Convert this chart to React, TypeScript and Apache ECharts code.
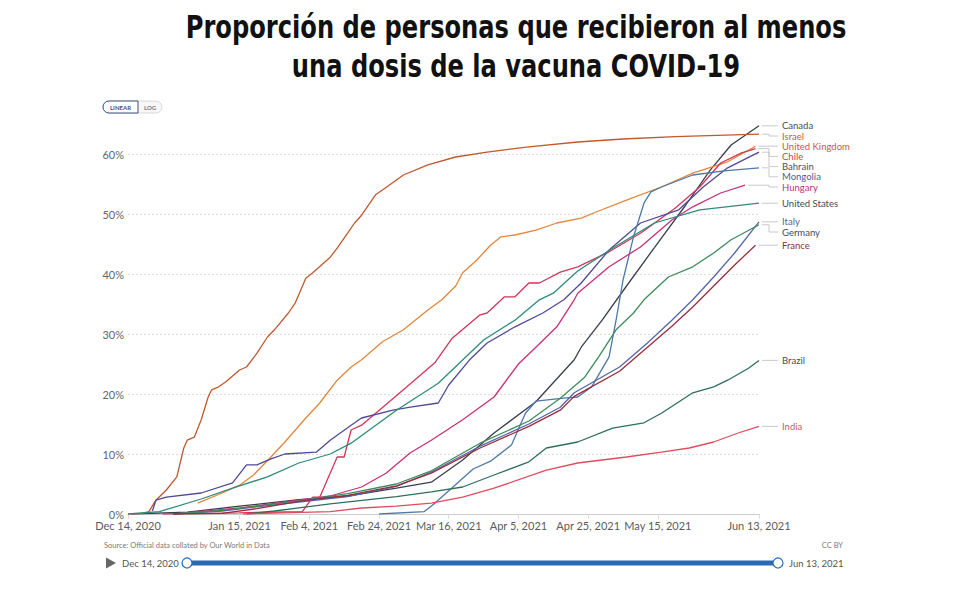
import React, { useEffect, useRef } from "react";
import * as echarts from "echarts";

type Pt = [string, number];

const START_DATE = "2020-12-14";
const END_DATE = "2021-06-13";
const tickDates = ["2020-12-14", "2021-01-15", "2021-02-04", "2021-02-24", "2021-03-16", "2021-04-05", "2021-04-25", "2021-05-15", "2021-06-13"];
const tickLabels = ["Dec 14, 2020", "Jan 15, 2021", "Feb 4, 2021", "Feb 24, 2021", "Mar 16, 2021", "Apr 5, 2021", "Apr 25, 2021", "May 15, 2021", "Jun 13, 2021"];

const canada: Pt[] = [["2020-12-15",0],["2020-12-31",0.3],["2021-01-15",1.3],["2021-02-01",2.4],["2021-02-15",3.0],["2021-03-01",4.3],["2021-03-11",5.3],["2021-03-20",9],["2021-03-29",13.5],["2021-04-10",18.7],["2021-04-21",25.7],["2021-04-23",27.8],["2021-04-29",32.3],["2021-05-06",38],["2021-05-15",45.2],["2021-05-23",51.5],["2021-05-30",57.3],["2021-06-05",61.5],["2021-06-13",64.7]];
const israel: Pt[] = [["2020-12-14",0],["2020-12-18",0.1],["2020-12-20",0.4],["2020-12-22",2.3],["2020-12-25",4],["2020-12-28",6.2],["2020-12-30",11],["2020-12-31",12.3],["2021-01-02",12.8],["2021-01-04",15.7],["2021-01-06",19.5],["2021-01-07",20.7],["2021-01-09",21.2],["2021-01-11",22],["2021-01-15",24],["2021-01-17",24.5],["2021-01-20",26.8],["2021-01-23",29.5],["2021-01-25",30.7],["2021-01-29",33.5],["2021-01-31",35.2],["2021-02-03",39.3],["2021-02-05",40.2],["2021-02-10",42.8],["2021-02-12",44.3],["2021-02-15",46.8],["2021-02-17",48.5],["2021-02-19",49.8],["2021-02-23",53.2],["2021-02-25",54],["2021-03-03",56.5],["2021-03-10",58.2],["2021-03-18",59.5],["2021-03-27",60.3],["2021-04-01",60.7],["2021-04-08",61.2],["2021-04-22",62],["2021-05-05",62.5],["2021-05-20",62.9],["2021-06-01",63.1],["2021-06-13",63.3]];
const unitedKingdom: Pt[] = [["2021-01-03",1.8],["2021-01-10",3.5],["2021-01-15",4.8],["2021-01-19",6.5],["2021-01-24",9.5],["2021-01-28",12],["2021-02-03",16],["2021-02-07",18.5],["2021-02-12",22.3],["2021-02-16",24.5],["2021-02-19",25.7],["2021-02-25",28.7],["2021-03-03",30.7],["2021-03-10",34],["2021-03-14",35.7],["2021-03-18",38],["2021-03-20",40.2],["2021-03-24",42.3],["2021-03-28",44.8],["2021-03-31",46.2],["2021-04-04",46.5],["2021-04-10",47.3],["2021-04-16",48.5],["2021-04-23",49.3],["2021-04-28",50.5],["2021-05-06",52.3],["2021-05-16",54.5],["2021-05-25",56.8],["2021-06-04",58.7],["2021-06-12",61.3]];
const chile: Pt[] = [["2020-12-24",0],["2021-01-15",0.2],["2021-02-02",0.4],["2021-02-05",2.8],["2021-02-07",2.8],["2021-02-12",9.5],["2021-02-14",9.5],["2021-02-16",14],["2021-02-19",14.8],["2021-03-04",21.2],["2021-03-12",25.2],["2021-03-17",29.3],["2021-03-25",33.2],["2021-03-27",33.5],["2021-04-01",36.2],["2021-04-04",36.2],["2021-04-08",38.5],["2021-04-11",38.5],["2021-04-17",40.3],["2021-04-22",41.2],["2021-05-01",43.7],["2021-05-10",46.8],["2021-05-20",51],["2021-05-27",54.5],["2021-06-02",58.5],["2021-06-08",60.2],["2021-06-12",60.9]];
const bahrain: Pt[] = [["2020-12-21",0.5],["2020-12-22",2.3],["2020-12-25",2.8],["2021-01-04",3.5],["2021-01-13",5.2],["2021-01-17",8.2],["2021-01-20",8.2],["2021-01-24",9.2],["2021-01-28",10],["2021-02-06",10.3],["2021-02-10",12.3],["2021-02-16",14.8],["2021-02-19",16],["2021-02-28",17.3],["2021-03-05",17.8],["2021-03-13",18.5],["2021-03-16",21.5],["2021-03-22",25.7],["2021-03-27",28.5],["2021-04-04",31.2],["2021-04-12",33.5],["2021-04-18",35.7],["2021-04-23",38.5],["2021-05-01",44],["2021-05-10",48.5],["2021-05-21",50.7],["2021-05-28",54.5],["2021-06-04",57.7],["2021-06-13",60.3]];
const mongolia: Pt[] = [["2021-02-24",0],["2021-03-09",0.4],["2021-03-12",1.8],["2021-03-23",7.5],["2021-03-28",8.8],["2021-04-03",11.5],["2021-04-07",16.8],["2021-04-10",18.8],["2021-04-18",19.3],["2021-04-22",19.5],["2021-04-26",21.2],["2021-05-01",26.2],["2021-05-03",32.3],["2021-05-05",39],["2021-05-08",46.2],["2021-05-11",51.8],["2021-05-13",53.7],["2021-05-16",54.5],["2021-05-25",56.5],["2021-06-03",57.2],["2021-06-13",57.7]];
const hungary: Pt[] = [["2020-12-27",0],["2021-01-15",1.0],["2021-02-01",2.3],["2021-02-10",3.0],["2021-02-19",4.5],["2021-02-26",6.8],["2021-03-05",10.2],["2021-03-11",12.3],["2021-03-20",15.7],["2021-03-29",19.5],["2021-04-05",25],["2021-04-10",27.8],["2021-04-16",31.2],["2021-04-21",35.7],["2021-04-22",36.8],["2021-05-01",41.2],["2021-05-10",44.5],["2021-05-19",49],["2021-05-25",51.2],["2021-06-02",53.5],["2021-06-09",54.8]];
const unitedStates: Pt[] = [["2020-12-14",0],["2020-12-23",0.4],["2021-01-04",2.5],["2021-01-13",4.3],["2021-01-23",6.2],["2021-02-01",8.5],["2021-02-10",10],["2021-02-16",11.8],["2021-03-01",17.3],["2021-03-13",21.8],["2021-03-26",29],["2021-04-04",32.3],["2021-04-11",35.7],["2021-04-15",36.8],["2021-04-22",40.5],["2021-05-02",44.3],["2021-05-14",48.5],["2021-05-27",50.7],["2021-06-13",51.8]];
const italy: Pt[] = [["2020-12-27",0],["2021-01-10",0.5],["2021-01-20",1.2],["2021-02-01",2.0],["2021-02-15",2.9],["2021-03-01",4.6],["2021-03-11",7.0],["2021-03-25",11.3],["2021-04-08",15.0],["2021-04-17",17.8],["2021-04-21",20.2],["2021-05-04",24.5],["2021-05-12",28.5],["2021-05-19",32.3],["2021-05-25",35.7],["2021-05-31",39.5],["2021-06-06",43.5],["2021-06-13",48.7]];
const germany: Pt[] = [["2020-12-27",0],["2021-01-10",0.6],["2021-01-20",1.3],["2021-02-01",2.2],["2021-02-15",3.4],["2021-03-01",5.0],["2021-03-11",7.2],["2021-03-25",11.8],["2021-04-08",15.5],["2021-04-17",19.3],["2021-04-24",22.8],["2021-04-28",26.2],["2021-05-03",30.7],["2021-05-08",33.5],["2021-05-11",35.7],["2021-05-18",39.5],["2021-05-25",41.2],["2021-05-31",43.5],["2021-06-05",45.7],["2021-06-13",48.2]];
const france: Pt[] = [["2020-12-27",0],["2021-01-10",0.1],["2021-01-20",0.9],["2021-02-01",2.1],["2021-02-15",3.1],["2021-03-01",4.7],["2021-03-11",6.8],["2021-03-25",11.0],["2021-04-08",14.6],["2021-04-17",17.3],["2021-04-21",19.6],["2021-05-04",23.8],["2021-05-12",27.8],["2021-05-19",31.3],["2021-05-25",34.5],["2021-05-31",38],["2021-06-06",41.5],["2021-06-12",44.8]];
const brazil: Pt[] = [["2021-01-17",0],["2021-01-25",0.5],["2021-02-10",1.7],["2021-03-01",2.9],["2021-03-11",3.7],["2021-03-20",4.5],["2021-03-29",6.5],["2021-04-08",8.7],["2021-04-13",11],["2021-04-22",12],["2021-05-02",14.3],["2021-05-11",15.2],["2021-05-16",16.8],["2021-05-25",20.2],["2021-05-31",21.2],["2021-06-04",22.3],["2021-06-10",24.3],["2021-06-13",25.6]];
const india: Pt[] = [["2021-01-16",0],["2021-02-10",0.4],["2021-02-19",1],["2021-03-01",1.3],["2021-03-11",1.8],["2021-03-20",2.8],["2021-03-29",4.3],["2021-04-13",7.3],["2021-04-22",8.5],["2021-05-06",9.5],["2021-05-16",10.3],["2021-05-24",11],["2021-05-31",12],["2021-06-07",13.5],["2021-06-13",14.6]];

const countryNames = ["Canada", "Israel", "United Kingdom", "Chile", "Bahrain", "Mongolia", "Hungary", "United States", "Italy", "Germany", "France", "Brazil", "India"];
const countryData = [canada, israel, unitedKingdom, chile, bahrain, mongolia, hungary, unitedStates, italy, germany, france, brazil, india];
const lineColors = ["#3a3e4c", "#c0592d", "#e3873b", "#d4355a", "#4f4a95", "#4d79a8", "#c8307b", "#2e8b7a", "#5566a8", "#3d8b5c", "#9b2d3c", "#2f6f5a", "#e04c5e"];
const labelColors = ["#4a4a55", "#c0603a", "#d0553a", "#d23b55", "#4d4f5e", "#4f5b9c", "#c8307b", "#4a4a55", "#5a6690", "#4a4a55", "#8b2e3a", "#4a4a55", "#d0566a"];

const dayIndex = (d: string) => {
  const [y, m, dd] = d.split("-").map(Number);
  const [y0, m0, d0] = START_DATE.split("-").map(Number);
  return Math.round((Date.UTC(y, m - 1, dd) - Date.UTC(y0, m0 - 1, d0)) / 86400000);
};

export default function App() {
  const ref = useRef<HTMLDivElement>(null);
  useEffect(() => {
    if (!ref.current) return;
    const chart = echarts.init(ref.current, null, { renderer: "svg" });
    const tickVals = tickDates.map(dayIndex);
    const font = "Lato, 'Noto Sans', sans-serif";
    const gridLeft = 128, gridRight = 221, gridTop = 124, gridBottom = 91;
    chart.setOption({
      animation: false,
      backgroundColor: "#ffffff",
      grid: { left: gridLeft, right: gridRight, top: gridTop, bottom: gridBottom },
      xAxis: {
        type: "value",
        min: 0,
        max: dayIndex(END_DATE),
        axisLine: { show: true, lineStyle: { color: "#cccccc", width: 1 } },
        axisTick: { show: true, customValues: tickVals, length: 5, lineStyle: { color: "#dddddd" } },
        splitLine: { show: false },
        axisLabel: {
          customValues: tickVals,
          color: "#5b5b5b",
          fontFamily: font,
          fontSize: 11,
          margin: 6,
          formatter: (v: number) => {
            const i = tickVals.indexOf(Math.round(v));
            return i >= 0 ? tickLabels[i] : "";
          },
        },
      },
      yAxis: {
        type: "value",
        min: 0,
        max: 65,
        interval: 10,
        axisLine: { show: false },
        axisTick: { show: false },
        splitLine: { show: true, showMaxLine: false, lineStyle: { color: "#dcdcdc", type: [2, 2] } },
        axisLabel: { formatter: "{value}%", color: "#666666", fontFamily: font, fontSize: 11, margin: 4, showMaxLabel: false },
      },
      series: countryData.map((d, i) => ({
        name: countryNames[i],
        type: "line",
        showSymbol: false,
        symbol: "none",
        z: 3,
        lineStyle: { color: lineColors[i], width: 1.3 },
        itemStyle: { color: lineColors[i] },
        data: d.map(([date, v]) => [dayIndex(date), v]),
      })),
    });

    const ends = countryData.map((d, i) => {
      const last = d[d.length - 1];
      const p = chart.convertToPixel({ gridIndex: 0 }, [dayIndex(last[0]), last[1]]) as number[];
      return { i, x: p[0], y: p[1] };
    });
    const sorted = [...ends].sort((a, b) => a.y - b.y);
    let prev = -Infinity;
    const labelY: Record<number, number> = {};
    sorted.forEach((e) => {
      const y = Math.max(e.y, prev + 10.2);
      labelY[e.i] = y;
      prev = y;
    });
    const plotRight = 980 - gridRight;
    const graphics: any[] = [];
    ends.forEach((e) => {
      const ly = labelY[e.i];
      graphics.push({
        type: "polyline",
        silent: true,
        shape: { points: [[e.x + 3, e.y], [plotRight + 10, e.y], [plotRight + 10, ly], [plotRight + 19, ly]] },
        style: { stroke: "#bdbdbd", lineWidth: 0.8, fill: null },
      });
      graphics.push({
        type: "text",
        x: plotRight + 23,
        y: ly,
        style: { text: countryNames[e.i], fill: labelColors[e.i], font: `9.5px ${font}`, verticalAlign: "middle", align: "left" },
      });
    });

    graphics.push({
      type: "text",
      x: 516,
      y: 8,
      scaleX: 0.755,
      style: {
        text: "Proporción de personas que recibieron al menos\nuna dosis de la vacuna COVID-19",
        fill: "#111111",
        font: "bold 32px 'DejaVu Sans', sans-serif",
        align: "center",
        verticalAlign: "top",
        lineHeight: 39,
      },
    });

    graphics.push({ type: "rect", shape: { x: 103, y: 101, width: 59, height: 12, r: 6 }, style: { fill: "#f7f7f7", stroke: "#cfcfcf", lineWidth: 0.8 } });
    graphics.push({ type: "rect", shape: { x: 103, y: 101, width: 35, height: 12, r: [6, 0, 0, 6] }, style: { fill: "#ffffff", stroke: "#3d4f7c", lineWidth: 1 } });
    graphics.push({ type: "text", x: 120.5, y: 107.3, style: { text: "LINEAR", fill: "#3d4f7c", font: `bold 6px ${font}`, align: "center", verticalAlign: "middle" } });
    graphics.push({ type: "text", x: 150, y: 107.3, style: { text: "LOG", fill: "#777777", font: `bold 6px ${font}`, align: "center", verticalAlign: "middle" } });

    graphics.push({ type: "text", x: 104, y: 545, style: { text: "Source: Official data collated by Our World in Data", fill: "#7a7a7a", font: `7.5px ${font}`, verticalAlign: "middle" } });
    graphics.push({ type: "text", x: 843, y: 545, style: { text: "CC BY", fill: "#7a7a7a", font: `7.5px ${font}`, align: "right", verticalAlign: "middle" } });

    graphics.push({ type: "polygon", shape: { points: [[106, 557.5], [106, 568.5], [116, 563]] }, style: { fill: "#666666" } });
    graphics.push({ type: "text", x: 122, y: 563, style: { text: tickLabels[0], fill: "#555555", font: `9.5px ${font}`, verticalAlign: "middle" } });
    graphics.push({ type: "rect", shape: { x: 187, y: 560.5, width: 591, height: 5 }, style: { fill: "#2c6bb3" } });
    graphics.push({ type: "circle", shape: { cx: 187, cy: 563, r: 5 }, style: { fill: "#ffffff", stroke: "#2c6bb3", lineWidth: 1.2 } });
    graphics.push({ type: "circle", shape: { cx: 778, cy: 563, r: 5 }, style: { fill: "#ffffff", stroke: "#2c6bb3", lineWidth: 1.2 } });
    graphics.push({ type: "text", x: 789, y: 563, style: { text: tickLabels[tickLabels.length - 1], fill: "#555555", font: `9.5px ${font}`, verticalAlign: "middle" } });

    chart.setOption({ graphic: { elements: graphics } });
    return () => chart.dispose();
  }, []);
  return <div ref={ref} style={{ position: "fixed", left: 0, top: 0, width: 980, height: 605, background: "#fff" }} />;
}
